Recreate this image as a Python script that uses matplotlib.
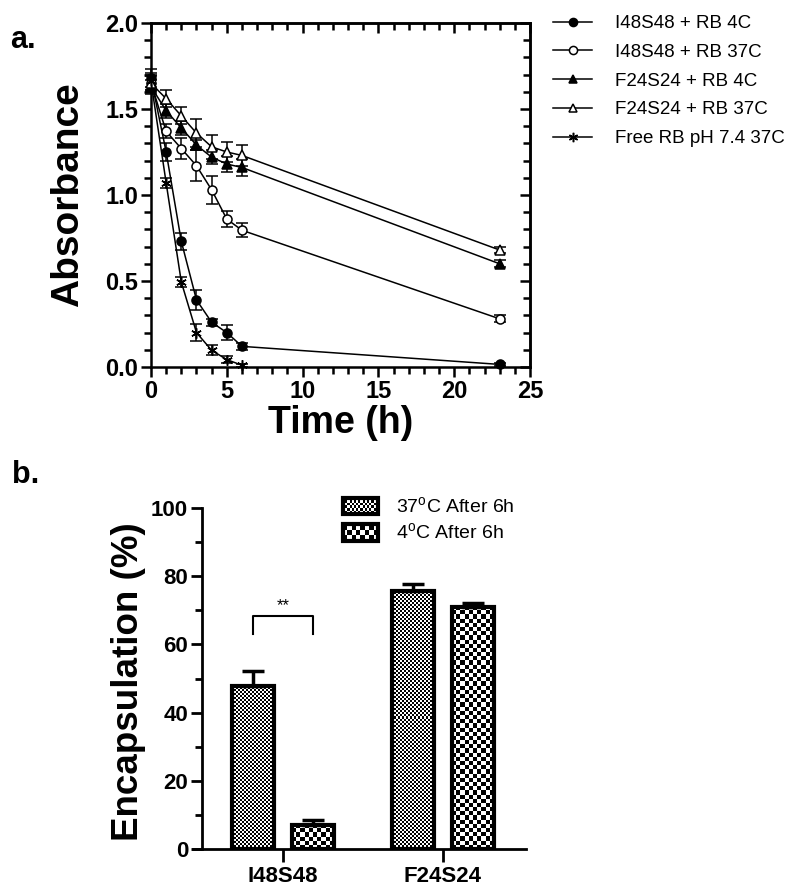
import numpy as np
import matplotlib
matplotlib.use('Agg')
import matplotlib.pyplot as plt
from matplotlib.ticker import MultipleLocator, FormatStrFormatter, NullFormatter
from matplotlib.legend_handler import HandlerBase
from matplotlib.image import BboxImage
from matplotlib.transforms import Bbox, TransformedBbox
from matplotlib.patches import Rectangle
from matplotlib.colors import Normalize

plt.rcParams['font.family'] = ['Liberation Sans', 'DejaVu Sans']
plt.rcParams['mathtext.fontset'] = 'custom'
plt.rcParams['mathtext.rm'] = 'Liberation Sans'

# ---------------- data (panel a) ----------------
time = [0, 1, 2, 3, 4, 5, 6, 23]
i48_4c = [1.68, 1.25, 0.73, 0.39, 0.26, 0.20, 0.12, 0.015]
i48_4c_err = [0.05, 0.05, 0.05, 0.06, 0.02, 0.045, 0.02, 0.01]
i48_37c = [1.65, 1.37, 1.27, 1.17, 1.03, 0.86, 0.795, 0.28]
i48_37c_err = [0.05, 0.04, 0.06, 0.09, 0.08, 0.045, 0.04, 0.02]
f24_4c = [1.63, 1.49, 1.39, 1.29, 1.22, 1.18, 1.16, 0.60]
f24_4c_err = [0.04, 0.04, 0.04, 0.03, 0.04, 0.045, 0.05, 0.02]
f24_37c = [1.65, 1.56, 1.46, 1.36, 1.28, 1.25, 1.23, 0.68]
f24_37c_err = [0.04, 0.05, 0.05, 0.08, 0.07, 0.06, 0.06, 0.02]
free_time = [0, 1, 2, 3, 4, 5, 6]
free_rb = [1.66, 1.07, 0.494, 0.20, 0.097, 0.043, 0.01]
free_rb_err = [0.05, 0.03, 0.03, 0.05, 0.03, 0.02, 0.01]
labels_a = ['I48S48 + RB 4C', 'I48S48 + RB 37C', 'F24S24 + RB 4C',
            'F24S24 + RB 37C', 'Free RB pH 7.4 37C']

# ---------------- data (panel b) ----------------
groups = ['I48S48', 'F24S24']
enc_37 = [47.9, 75.8]
enc_37_err = [4.4, 2.0]
enc_4 = [7.1, 71.1]
enc_4_err = [1.5, 1.0]
labels_b = ['37$^{\\rm o}$C After 6h', '4$^{\\rm o}$C After 6h']

W, H = 800, 896
fig = plt.figure(figsize=(W / 100, H / 100), dpi=100)


def ax_rect(l, t, r, b):
    return [l / W, 1 - b / H, (r - l) / W, (b - t) / H]


# ================= panel a =================
ax1 = fig.add_axes(ax_rect(151, 23, 530, 367))
series = [
    (time, i48_4c, i48_4c_err, 'o', 'black', 6.5),
    (time, i48_37c, i48_37c_err, 'o', 'white', 6.5),
    (time, f24_4c, f24_4c_err, '^', 'black', 6.5),
    (time, f24_37c, f24_37c_err, '^', 'white', 6.5),
    (free_time, free_rb, free_rb_err, (6, 2, 0), 'black', 7.5),
]
handles = []
for (t, y, e, m, fc, ms), lab in zip(series, labels_a):
    ax1.errorbar(t, y, yerr=e, fmt='none', ecolor='black', elinewidth=1.1,
                 capsize=4, capthick=1.1, clip_on=False, zorder=2)
    ln, = ax1.plot(t, y, '-', color='black', lw=1.1, marker=m, ms=ms,
                   mfc=fc, mec='black', mew=1.1, clip_on=False, zorder=3,
                   label=lab)
    handles.append(ln)

ax1.set_xlim(0, 25)
ax1.set_ylim(0, 2.0)
ax1.xaxis.set_major_locator(MultipleLocator(5))
ax1.xaxis.set_minor_locator(MultipleLocator(1))
ax1.yaxis.set_major_locator(MultipleLocator(0.5))
ax1.yaxis.set_minor_locator(MultipleLocator(0.1))
ax1.yaxis.set_major_formatter(FormatStrFormatter('%.1f'))
for s in ax1.spines.values():
    s.set_linewidth(1.8)
ax1.tick_params(which='major', direction='out', length=7, width=1.8,
                labelsize=17, pad=2, top=False, right=False)
ax1.tick_params(which='minor', direction='out', length=5, width=1.8,
                top=False, right=False)
for lab in ax1.get_xticklabels() + ax1.get_yticklabels():
    lab.set_fontweight('bold')

secx = ax1.secondary_xaxis('top')
secx.xaxis.set_major_locator(MultipleLocator(5))
secx.xaxis.set_minor_locator(MultipleLocator(1))
secx.xaxis.set_major_formatter(NullFormatter())
secx.tick_params(which='major', direction='in', length=7, width=1.8)
secx.tick_params(which='minor', direction='in', length=5, width=1.8)
secx.spines['top'].set_linewidth(1.8)
secy = ax1.secondary_yaxis('right')
secy.yaxis.set_major_locator(MultipleLocator(0.5))
secy.yaxis.set_minor_locator(MultipleLocator(0.1))
secy.yaxis.set_major_formatter(NullFormatter())
secy.tick_params(which='major', direction='in', length=7, width=1.8)
secy.tick_params(which='minor', direction='in', length=5, width=1.8)
secy.spines['right'].set_linewidth(1.8)

ax1.set_xlabel('Time (h)', fontsize=27, fontweight='bold', labelpad=2)
ax1.set_ylabel('Absorbance', fontsize=28, fontweight='bold', labelpad=14)

fig.legend(handles, labels_a, loc='upper left',
           bbox_to_anchor=(553 / W, 1 - 15 / H), bbox_transform=fig.transFigure,
           frameon=False, fontsize=13.5, handlelength=2.1, handletextpad=1.2,
           labelspacing=0.62, borderpad=0, borderaxespad=0, markerscale=0.9)

fig.text(10 / W, 1 - 48 / H, 'a.', fontsize=22, fontweight='bold', va='baseline')
fig.text(12 / W, 1 - 483 / H, 'b.', fontsize=22, fontweight='bold', va='baseline')

# ================= panel b =================
ax2 = fig.add_axes(ax_rect(193, 508, 526, 849))
pos = np.arange(len(groups))
off, bw = 0.1875, 0.2625
bars37 = ax2.bar(pos - off, enc_37, width=bw, facecolor='none',
                 edgecolor='black', lw=3, zorder=4)
bars4 = ax2.bar(pos + off, enc_4, width=bw, facecolor='none',
                edgecolor='black', lw=3, zorder=4)
ax2.errorbar(pos - off, enc_37, yerr=[np.zeros(len(groups)), enc_37_err],
             fmt='none', ecolor='black', elinewidth=2.5, capsize=8,
             capthick=2.5, zorder=3)
ax2.errorbar(pos + off, enc_4, yerr=[np.zeros(len(groups)), enc_4_err],
             fmt='none', ecolor='black', elinewidth=2.5, capsize=8,
             capthick=2.5, zorder=3)

xl = (-0.5625, 1.519)
ax2.set_xlim(*xl)
ax2.set_ylim(0, 100)


def checker(ny, nx):
    return (np.add.outer(np.arange(ny), np.arange(nx)) % 2).astype(float)


def fill_checker(rects, cell):
    for r in rects:
        x0, w, h = r.get_x(), r.get_width(), r.get_height()
        p0 = ax2.transData.transform((x0, 0))
        p1 = ax2.transData.transform((x0 + w, h))
        nx = max(1, int(round((p1[0] - p0[0]) / cell)))
        ny = max(1, int(round((p1[1] - p0[1]) / cell)))
        im = ax2.imshow(checker(ny, nx), extent=(x0, x0 + w, 0, h),
                        origin='lower', cmap='gray', vmin=0, vmax=1,
                        interpolation='nearest', aspect='auto', zorder=2)
        im.set_clip_path(r)


fill_checker(bars37, 2.0)
fill_checker(bars4, 4.2)
ax2.set_xlim(*xl)
ax2.set_ylim(0, 100)

# significance bracket
ax2.plot([pos[0] - off, pos[0] - off, pos[0] + off, pos[0] + off],
         [63.1, 68.4, 68.4, 63.1], color='black', lw=1.5)
ax2.text(pos[0], 69.3, '**', ha='center', va='bottom', fontsize=12)

ax2.spines['top'].set_visible(False)
ax2.spines['right'].set_visible(False)
ax2.spines['left'].set_position(('axes', 9 / 333))
ax2.spines['left'].set_linewidth(2)
ax2.spines['bottom'].set_linewidth(2)
ax2.set_yticks(range(0, 101, 20))
ax2.yaxis.set_minor_locator(MultipleLocator(10))
ax2.set_xticks(pos)
ax2.set_xticklabels(groups)
ax2.tick_params(axis='y', which='major', direction='out', length=8, width=2,
                labelsize=16, pad=2)
ax2.tick_params(axis='y', which='minor', direction='out', length=5, width=2)
ax2.tick_params(axis='x', which='major', direction='out', length=9, width=2,
                labelsize=16, pad=3)
for lab in ax2.get_xticklabels() + ax2.get_yticklabels():
    lab.set_fontweight('bold')
ax2.set_ylabel('Encapsulation (%)', fontsize=26.5, fontweight='bold')
ax2.yaxis.set_label_coords(-0.142, 0.49)


class CheckerHandler(HandlerBase):
    def __init__(self, data):
        super().__init__()
        self.data = data

    def create_artists(self, legend, orig_handle, xdescent, ydescent,
                       width, height, fontsize, trans):
        bb = Bbox.from_bounds(-xdescent, -ydescent, width, height)
        img = BboxImage(TransformedBbox(bb, trans), cmap='gray',
                        norm=Normalize(0, 1), interpolation='nearest')
        img.set_data(self.data)
        rect = Rectangle((-xdescent, -ydescent), width, height,
                         facecolor='none', edgecolor='black', lw=3,
                         transform=trans)
        return [img, rect]


h37 = Rectangle((0, 0), 1, 1)
h4 = Rectangle((0, 0), 1, 1)
ax2.legend([h37, h4], labels_b,
           handler_map={h37: CheckerHandler(checker(6, 16)),
                        h4: CheckerHandler(checker(3, 8))},
           loc='upper left', bbox_to_anchor=(343 / W, 1 - 496 / H),
           bbox_transform=fig.transFigure, frameon=False, fontsize=14,
           handlelength=1.8, handleheight=0.9, handletextpad=0.9,
           labelspacing=0.3, borderpad=0, borderaxespad=0)

fig.savefig('out.png', dpi=100)
